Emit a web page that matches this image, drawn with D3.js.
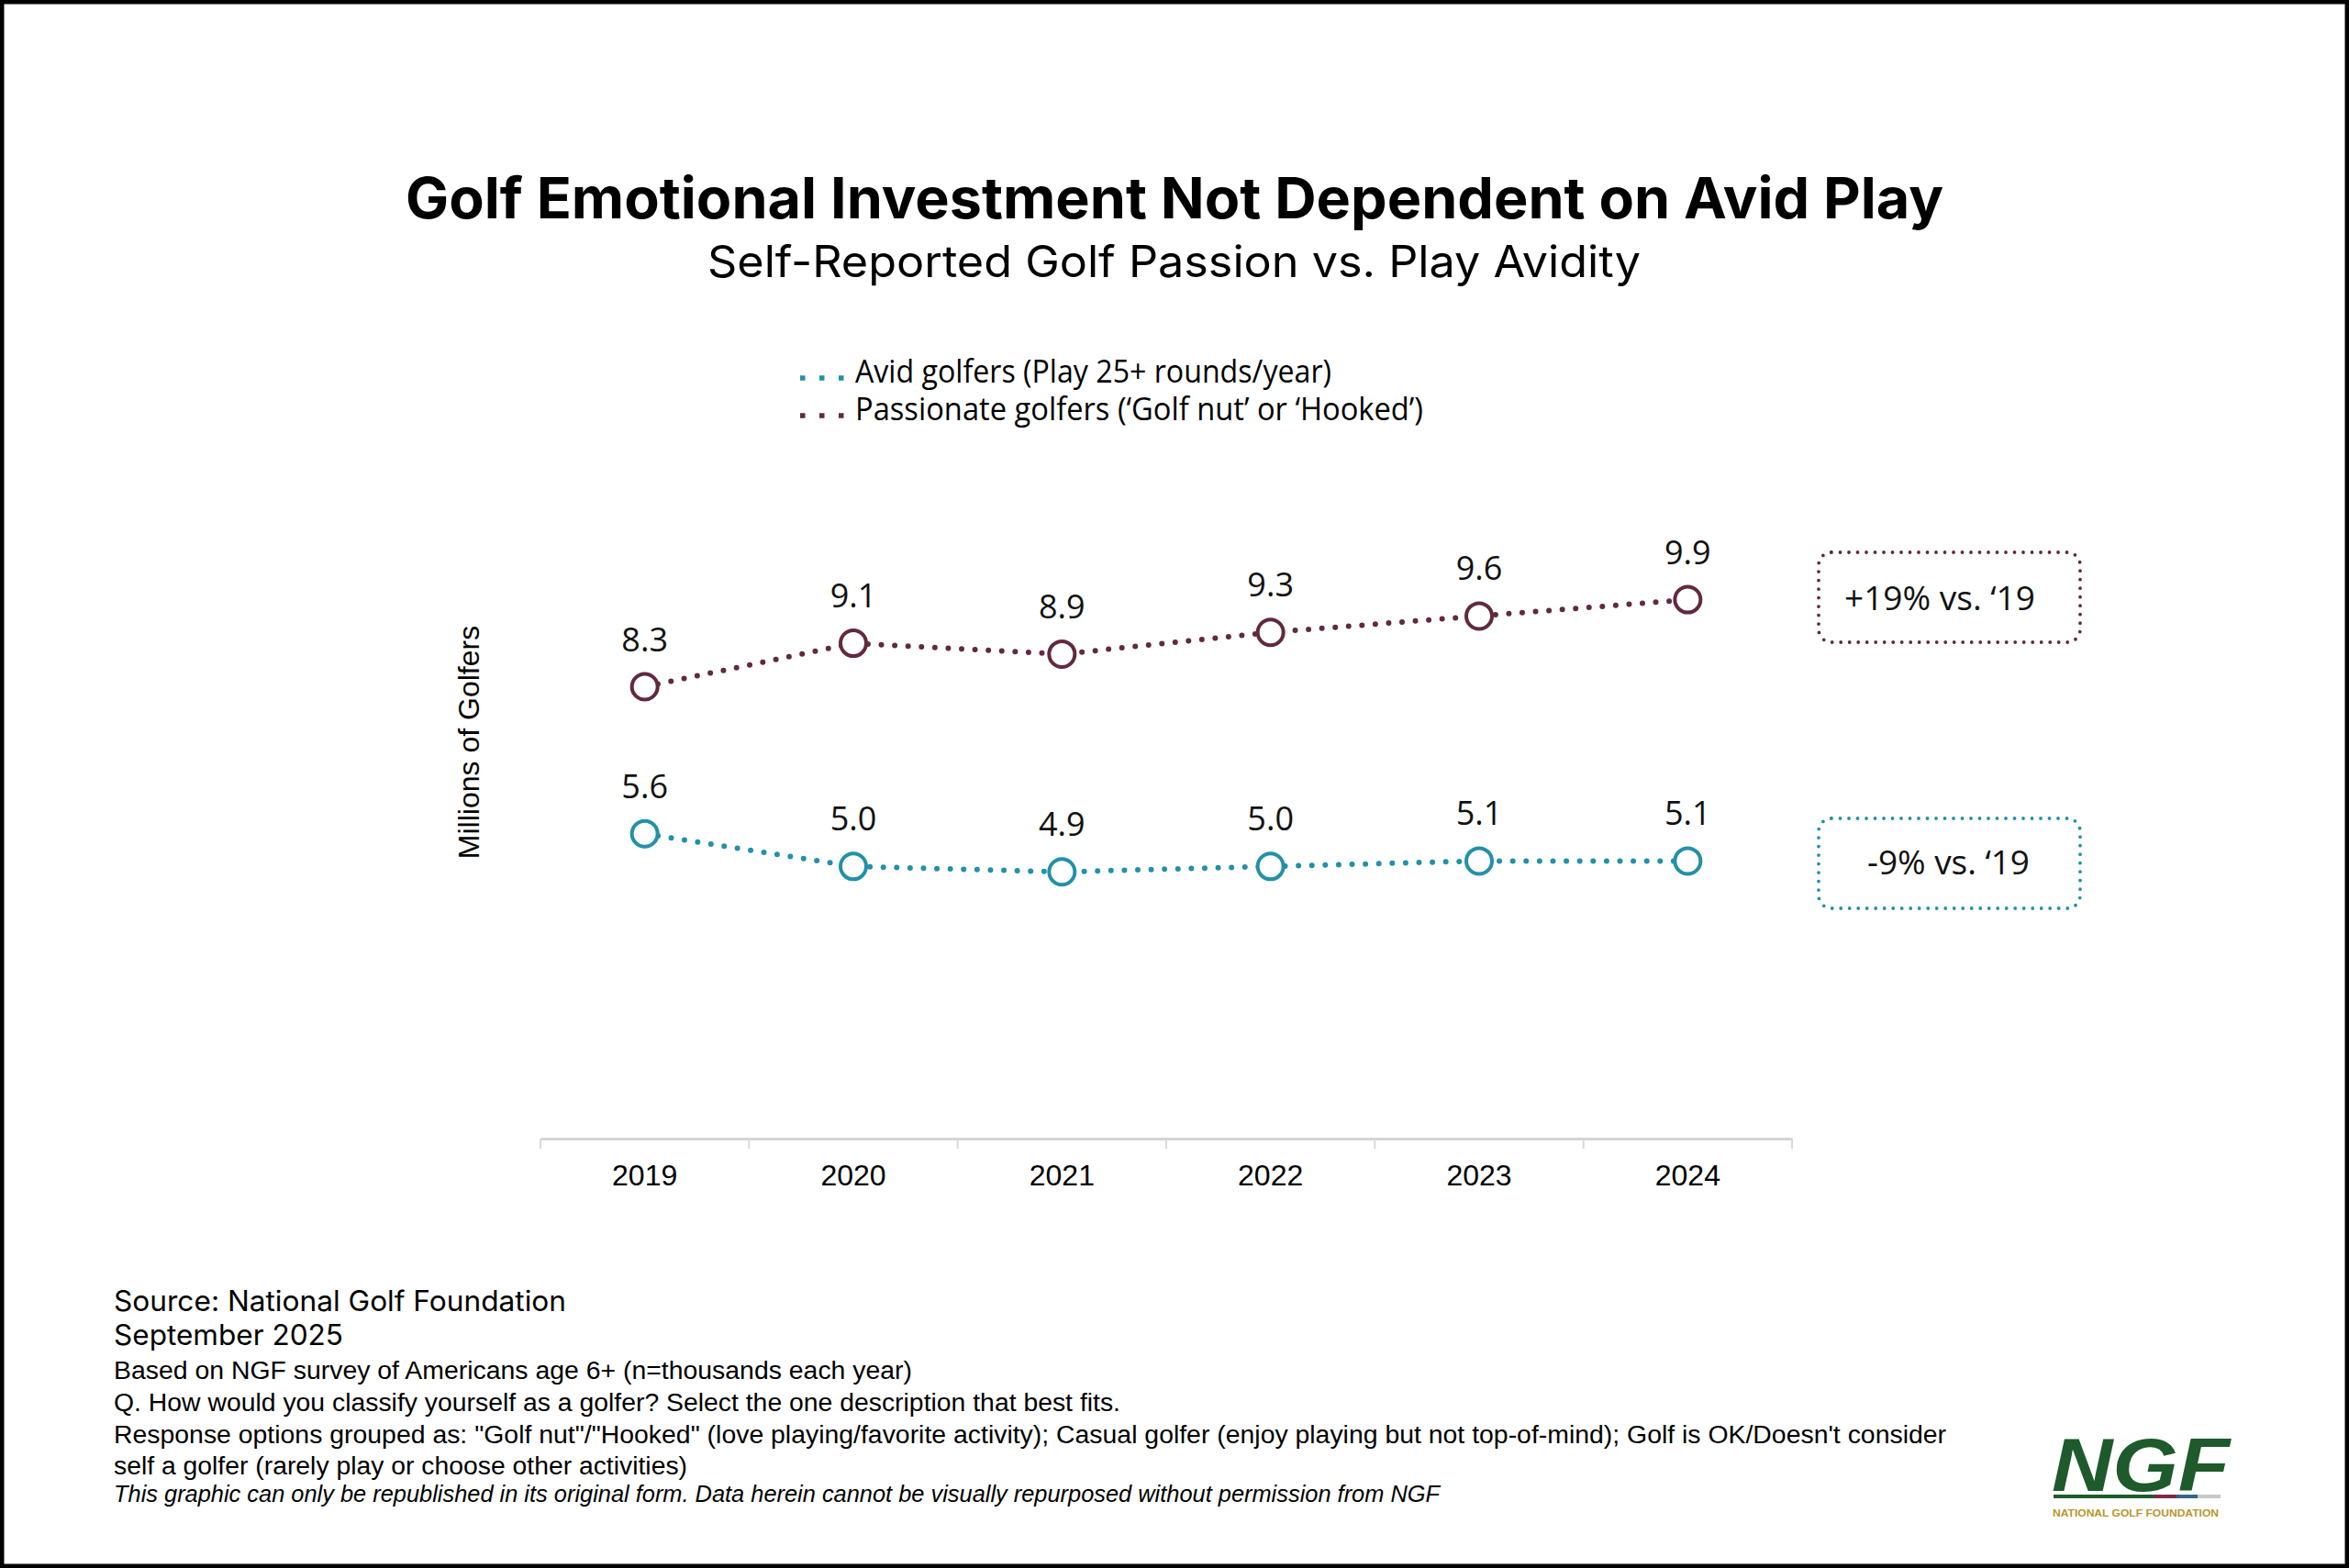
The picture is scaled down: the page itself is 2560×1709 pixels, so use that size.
<!DOCTYPE html>
<html>
<head>
<meta charset="utf-8">
<script src="https://cdn.jsdelivr.net/npm/d3@7"></script>
<style>
  html, body { margin: 0; padding: 0; background: #fff; }
  svg { display: block; }
</style>
</head>
<body>
<svg id="chart" width="2560" height="1709"></svg>
<script>
// ---- Data ----
const years = ["2019", "2020", "2021", "2022", "2023", "2024"];
const avidValues = [5.6, 5.0, 4.9, 5.0, 5.1, 5.1];
const passionateValues = [8.3, 9.1, 8.9, 9.3, 9.6, 9.9];
const seriesNames = ["Avid golfers (Play 25+ rounds/year)", "Passionate golfers (\u2018Golf nut\u2019 or \u2018Hooked\u2019)"];
const changeLabels = ["-9% vs. \u201819", "+19% vs. \u201819"];
const titleText = "Golf Emotional Investment Not Dependent on Avid Play";
const subtitleText = "Self-Reported Golf Passion vs. Play Avidity";
const yAxisLabel = "Millions of Golfers";
const footerLines = [
  "Based on NGF survey of Americans age 6+ (n=thousands each year)",
  "Q. How would you classify yourself as a golfer? Select the one description that best fits.",
  "Response options grouped as: \"Golf nut\"/\"Hooked\" (love playing/favorite activity); Casual golfer (enjoy playing but not top-of-mind); Golf is OK/Doesn't consider",
  "self a golfer (rarely play or choose other activities)"
];

const TEAL = "#2391a7";
const MAROON = "#62293f";

const svg = d3.select("#chart");

// border
svg.append("rect").attr("x", 0).attr("y", 0).attr("width", 2560).attr("height", 1709)
  .attr("fill", "#fff").attr("stroke", "#000").attr("stroke-width", 9);

// Title
svg.append("text").attr("x", 442).attr("y", 238)
  .attr("font-family", "Inter, 'Liberation Sans', sans-serif").attr("font-weight", 700)
  .attr("font-size", 62).attr("fill", "#000")
  .attr("textLength", 1676).attr("lengthAdjust", "spacingAndGlyphs")
  .text(titleText);
svg.append("text").attr("x", 771).attr("y", 302)
  .attr("font-family", "Inter, 'Liberation Sans', sans-serif").attr("font-weight", 400)
  .attr("font-size", 48).attr("fill", "#000")
  .attr("textLength", 1017).attr("lengthAdjust", "spacingAndGlyphs")
  .text(subtitleText);

// Legend
const legendColors = [TEAL, MAROON];
const legendY = [417, 458];
const legendWidths = [519, 619];
legendColors.forEach((c, i) => {
  svg.append("line").attr("x1", 872).attr("x2", 921)
    .attr("y1", legendY[i] - 5).attr("y2", legendY[i] - 5)
    .attr("stroke", c).attr("stroke-width", 5.5).attr("stroke-dasharray", "5.5 15.5");
  svg.append("text").attr("x", 932).attr("y", legendY[i])
    .attr("font-family", "'Open Sans', sans-serif").attr("font-size", 34).attr("fill", "#000")
    .attr("textLength", legendWidths[i]).attr("lengthAdjust", "spacingAndGlyphs")
    .text(seriesNames[i]);
});

// Scales
const x = d3.scaleBand().domain(years).range([589, 1953]);
const y = d3.scaleLinear().domain([0, 12]).range([1241, 529]);
const cx = d => x(d) + x.bandwidth() / 2;

// X axis
const axisG = svg.append("g").attr("transform", "translate(0,1241)")
  .call(d3.axisBottom(x).tickSize(0).tickPadding(28));
axisG.select(".domain").attr("stroke", "#d4d4d4").attr("stroke-width", 3);
axisG.selectAll(".tick text")
  .attr("font-family", "'Liberation Sans', Arial, sans-serif")
  .attr("font-size", 32).attr("fill", "#000");
// separators at band edges
const edges = years.map(d => x(d)).concat([x.range()[1]]);
axisG.selectAll("line.sep").data(edges).enter().append("line")
  .attr("class", "sep")
  .attr("x1", d => d).attr("x2", d => d).attr("y1", 0).attr("y2", 11)
  .attr("stroke", "#d9d9d9").attr("stroke-width", 2);

// Y axis label
svg.append("text")
  .attr("transform", "translate(522,809) rotate(-90)")
  .attr("text-anchor", "middle")
  .attr("font-family", "'Liberation Sans', Arial, sans-serif").attr("font-size", 32)
  .attr("fill", "#000")
  .text(yAxisLabel);

// Series
const series = [
  { values: avidValues, color: TEAL },
  { values: passionateValues, color: MAROON }
];
const line = d3.line().x(d => cx(d.year)).y(d => y(d.v));

series.forEach(s => {
  const pts = years.map((yr, i) => ({ year: yr, v: s.values[i] }));
  svg.append("path").datum(pts).attr("d", line)
    .attr("fill", "none").attr("stroke", s.color).attr("stroke-width", 6)
    .attr("stroke-linecap", "round").attr("stroke-dasharray", "0 14.6");
  svg.selectAll(null).data(pts).enter().append("circle")
    .attr("cx", d => cx(d.year)).attr("cy", d => y(d.v)).attr("r", 14)
    .attr("fill", "#fff").attr("stroke", s.color).attr("stroke-width", 4);
  svg.selectAll(null).data(pts).enter().append("text")
    .attr("x", d => cx(d.year)).attr("y", d => y(d.v) - 39)
    .attr("text-anchor", "middle")
    .attr("font-family", "'Open Sans', sans-serif").attr("font-size", 36).attr("fill", "#111")
    .text(d => d.v.toFixed(1));
});

// Change annotation boxes
const boxes = [
  { y: 892, color: TEAL, label: changeLabels[0], tx: 2035, tw: 177, ty: 953 },
  { y: 602, color: MAROON, label: changeLabels[1], tx: 2010, tw: 208, ty: 665 }
];
boxes.forEach(b => {
  svg.append("rect").attr("x", 1982).attr("y", b.y).attr("width", 285).attr("height", 98)
    .attr("rx", 14).attr("fill", "none").attr("stroke", b.color).attr("stroke-width", 3.8)
    .attr("stroke-linecap", "round").attr("stroke-dasharray", "0 9.5");
  svg.append("text").attr("x", b.tx).attr("y", b.ty)
    .attr("font-family", "'Open Sans', sans-serif").attr("font-size", 37).attr("fill", "#111")
    .attr("textLength", b.tw).attr("lengthAdjust", "spacingAndGlyphs")
    .text(b.label);
});

// Footer
svg.append("text").attr("x", 124).attr("y", 1429)
  .attr("font-family", "Inter, 'Liberation Sans', sans-serif").attr("font-size", 31).attr("fill", "#000")
  .attr("textLength", 493).attr("lengthAdjust", "spacingAndGlyphs")
  .text("Source: National Golf Foundation");
svg.append("text").attr("x", 124).attr("y", 1466)
  .attr("font-family", "Inter, 'Liberation Sans', sans-serif").attr("font-size", 31).attr("fill", "#000")
  .attr("textLength", 250).attr("lengthAdjust", "spacingAndGlyphs")
  .text("September 2025");
const footerY = [1503, 1538, 1573, 1607];
const footerW = [870, 1097, 1997, 625];
footerLines.forEach((t, i) => {
  svg.append("text").attr("x", 124).attr("y", footerY[i])
    .attr("font-family", "'Liberation Sans', Arial, sans-serif").attr("font-size", 27).attr("fill", "#000")
    .attr("textLength", footerW[i]).attr("lengthAdjust", "spacingAndGlyphs")
    .text(t);
});
svg.append("text").attr("x", 124).attr("y", 1637)
  .attr("font-family", "'Liberation Sans', Arial, sans-serif").attr("font-size", 25)
  .attr("font-style", "italic").attr("fill", "#000")
  .attr("textLength", 1445).attr("lengthAdjust", "spacingAndGlyphs")
  .text("This graphic can only be republished in its original form. Data herein cannot be visually repurposed without permission from NGF");

// Logo
const logo = svg.append("g");
logo.append("text").attr("x", 2236).attr("y", 1625)
  .attr("font-family", "'Liberation Sans', Arial, sans-serif").attr("font-weight", 700)
  .attr("font-style", "italic").attr("font-size", 82).attr("fill", "#1e5a2b")
  .attr("textLength", 194).attr("lengthAdjust", "spacingAndGlyphs")
  .text("NGF");
const stripe = [[2238, 2347, "#1e5a2b"], [2347, 2372, "#7a2d45"], [2372, 2395, "#35658a"], [2395, 2420, "#c8c8c8"]];
stripe.forEach(s => {
  logo.append("rect").attr("x", s[0]).attr("y", 1629).attr("width", s[1] - s[0]).attr("height", 4).attr("fill", s[2]);
});
logo.append("text").attr("x", 2237).attr("y", 1653)
  .attr("font-family", "'Liberation Sans', Arial, sans-serif").attr("font-weight", 700)
  .attr("font-size", 11.5).attr("fill", "#b8962e")
  .attr("textLength", 181).attr("lengthAdjust", "spacingAndGlyphs")
  .text("NATIONAL GOLF FOUNDATION");
</script>
</body>
</html>
